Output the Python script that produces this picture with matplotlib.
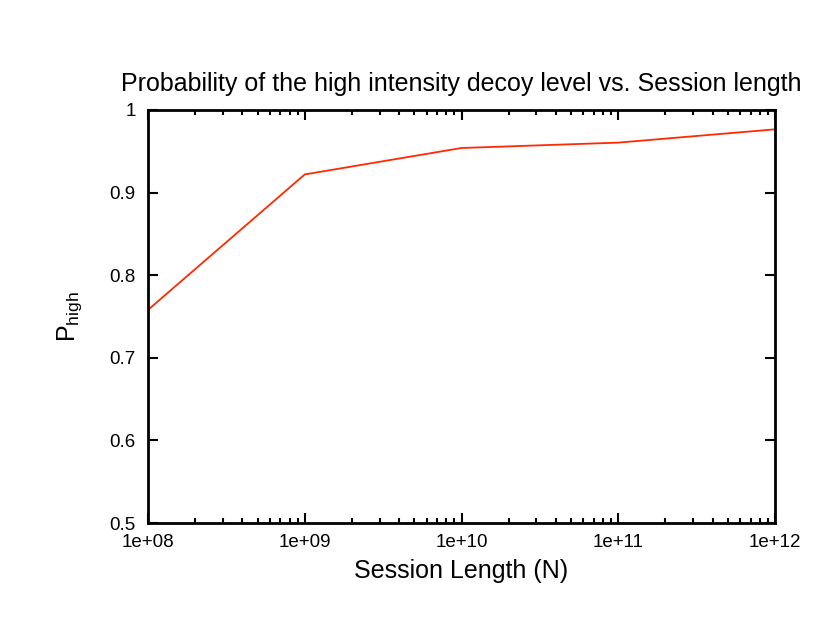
import numpy as np
import matplotlib.pyplot as plt
from matplotlib.ticker import LogLocator, FixedLocator

plt.rcParams['font.family'] = ['Liberation Sans', 'DejaVu Sans']

session_length = [1e8, 1e9, 1e10, 1e11, 1e12]
p_high = [0.758, 0.922, 0.954, 0.9605, 0.9766]
xtick_labels = ['1e+08', '1e+09', '1e+10', '1e+11', '1e+12']
yticks = [0.5, 0.6, 0.7, 0.8, 0.9, 1.0]
ytick_labels = ['0.5', '0.6', '0.7', '0.8', '0.9', '1']

fig = plt.figure(figsize=(8.3, 6.42), dpi=100)
ax = fig.add_axes([148/830, 1-523/642, (775-148)/830, (523-110)/642])

ax.plot(session_length, p_high, color='#ff2a00', lw=1.3)
ax.set_xscale('log')
ax.set_xlim(1e8, 1e12)
ax.set_ylim(0.5, 1.0)

ax.xaxis.set_major_locator(FixedLocator(session_length))
ax.set_xticklabels(xtick_labels)
ax.xaxis.set_minor_locator(LogLocator(base=10, subs=np.arange(2, 10)))
ax.set_yticks(yticks)
ax.set_yticklabels(ytick_labels)

ax.tick_params(which='both', direction='in', top=True, right=True, labelsize=13.5, width=1.5)
ax.tick_params(which='major', length=7.5)
ax.tick_params(axis='y', which='major', pad=9)
ax.tick_params(axis='x', which='major', pad=8)
ax.tick_params(which='minor', length=3.5)
for s in ax.spines.values():
    s.set_linewidth(2)

ax.set_xlabel('Session Length (N)', fontsize=18, labelpad=6)
ax.set_ylabel(r'P$_{\mathregular{high}}$', fontsize=18, labelpad=18)
ax.set_title('Probability of the high intensity decoy level vs. Session length', fontsize=18, pad=14)

plt.savefig('out.png')
